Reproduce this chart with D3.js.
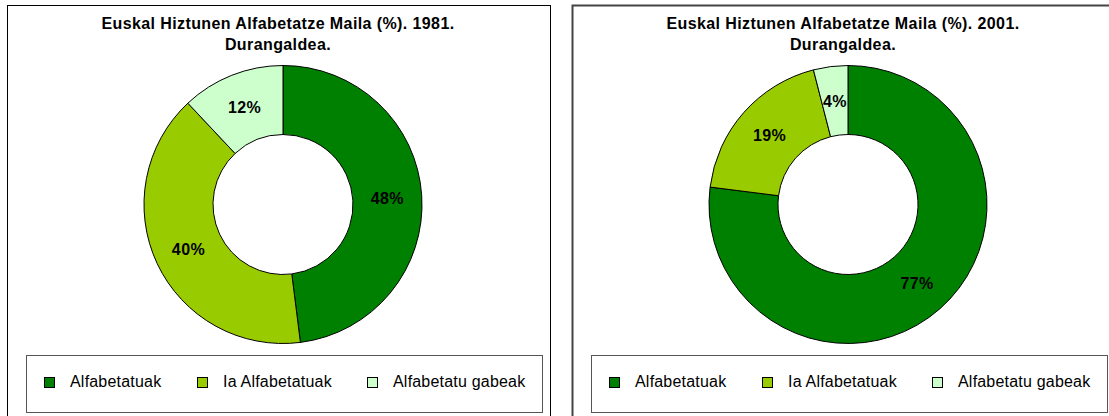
<!DOCTYPE html>
<html>
<head>
<meta charset="utf-8">
<script src="https://cdn.jsdelivr.net/npm/d3@7"></script>
<style>
  html, body { margin: 0; padding: 0; background: #fff; }
  svg { display: block; font-family: "Liberation Sans", Arial, sans-serif; }
</style>
</head>
<body>
<svg id="chart" width="1109" height="416"></svg>
<script>
const categories = ["Alfabetatuak", "Ia Alfabetatuak", "Alfabetatu gabeak"];
const colors = ["#008000", "#99CC00", "#CCFFCC"];
const years = ["1981", "2001"];
const values1981 = [48, 40, 12];
const values2001 = [77, 19, 4];
const titleLine1 = "Euskal Hiztunen Alfabetatze Maila (%). ";
const titleLine2 = "Durangaldea.";

const svg = d3.select("#chart");
const panels = [
  { x: 7, year: years[0], values: values1981, stroke: "#000", sw: 1 },
  { x: 572, year: years[1], values: values2001, stroke: "#444", sw: 2 }
];

const color = d3.scaleOrdinal().domain(categories).range(colors);
const pie = d3.pie().sort(null).value(d => d.value);
const arc = d3.arc().innerRadius(70).outerRadius(139);

panels.forEach(p => {
  const g = svg.append("g").attr("transform", `translate(${p.x},5)`);
  g.append("rect")
    .attr("x", 0.5).attr("y", 0.5)
    .attr("width", 543).attr("height", 430)
    .attr("fill", "#fff").attr("stroke", p.stroke).attr("stroke-width", p.sw);

  const title = g.append("text")
    .attr("text-anchor", "middle")
    .attr("font-weight", "bold").attr("font-size", 16)
    .attr("letter-spacing", 0.4)
    .attr("fill", "#000");
  title.append("tspan").attr("x", 271).attr("y", 23.5).text(titleLine1.trim() + " " + p.year + ".");
  title.append("tspan").attr("x", 271).attr("y", 45).text(titleLine2);

  const data = categories.map((c, i) => ({ cat: c, value: p.values[i] }));
  const arcs = pie(data);
  const dg = g.append("g").attr("transform", "translate(276,199.5)");
  dg.selectAll("path").data(arcs).join("path")
    .attr("d", arc)
    .attr("fill", d => color(d.data.cat))
    .attr("stroke", "#000").attr("stroke-width", 1);
  dg.selectAll("text").data(arcs).join("text")
    .attr("transform", d => `translate(${arc.centroid(d)})`)
    .attr("text-anchor", "middle")
    .attr("dy", "0.36em")
    .attr("font-weight", "bold").attr("font-size", 16)
    .attr("letter-spacing", 0.4)
    .attr("fill", "#000")
    .text(d => d.data.value + "%");

  const lg = g.append("g").attr("transform", "translate(19,350)");
  lg.append("rect")
    .attr("x", 0.5).attr("y", 0.5).attr("width", 516).attr("height", 57)
    .attr("fill", "#fff").attr("stroke", "#555").attr("stroke-width", 1);
  const itemX = [18, 171, 341];
  categories.forEach((c, i) => {
    lg.append("rect")
      .attr("x", itemX[i] + 0.5).attr("y", 22.5).attr("width", 10).attr("height", 10)
      .attr("fill", color(c)).attr("stroke", "#000").attr("stroke-width", 1);
    lg.append("text")
      .attr("x", itemX[i] + 26).attr("y", 32)
      .attr("font-size", 16).attr("letter-spacing", 0.2)
      .attr("fill", "#000")
      .text(c);
  });
});
</script>
</body>
</html>
